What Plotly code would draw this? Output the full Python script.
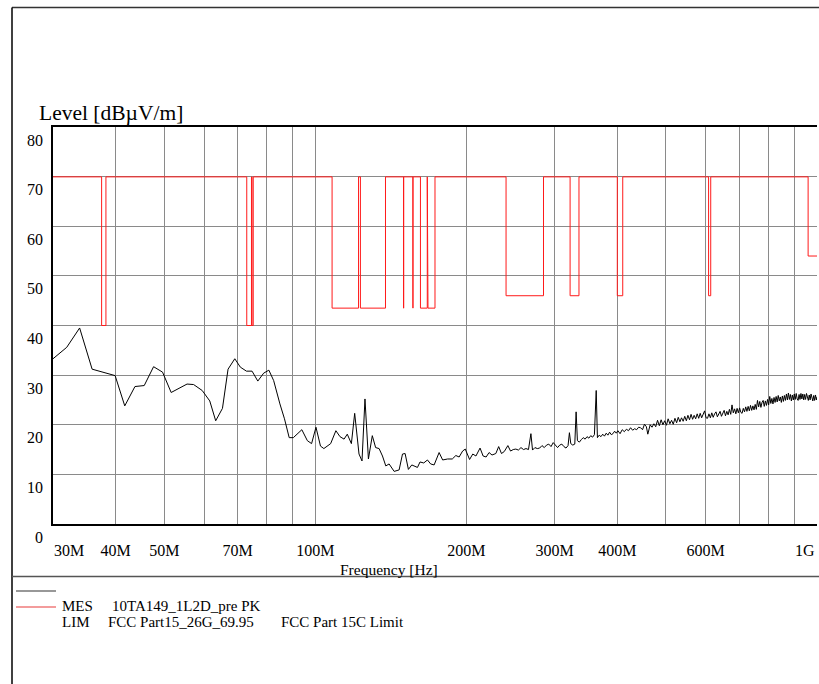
import math
import plotly.graph_objects as go

# ---------------- data ----------------
# measured peak trace (frequency in MHz, level in dBuV/m)
mes_freq_mhz = [
    30.0, 31.95, 33.9, 35.9, 39.9, 41.7, 43.7, 45.6, 47.6, 49.6, 51.6, 55.5, 57.2, 59.5,
    61.6, 63.3, 65.3, 67.0, 69.1, 70.9, 72.9, 74.8, 76.8, 78.9, 80.8, 82.6, 85.0, 86.8,
    88.7, 90.4, 94.0, 96.4, 98.3, 100.3, 102.4, 104.0, 107.3, 109.9, 112.0, 114.1, 115.8,
    118.0, 119.8, 122.2, 123.9, 125.6, 127.6, 129.9, 131.9, 134.0, 136.1, 138.2, 140.3,
    143.6, 146.9, 149.2, 151.0, 153.3, 155.7, 158.0, 159.8, 161.7, 164.5, 167.3, 169.8,
    172.5, 176.5, 179.4, 183.5, 187.5, 190.6, 193.5, 196.6, 199.0,
    203, 206, 209, 213, 216, 219, 222, 225, 229, 232, 235, 238, 242, 245, 248, 251, 254,
    257, 260, 263, 266, 269, 271, 274, 277, 280, 283, 286, 289, 292, 295, 298, 301, 304,
    307, 310, 313, 316, 319, 321, 323, 326, 329, 331, 333, 336, 339, 342, 345, 348, 351,
    354, 357, 360, 363, 365, 368, 371, 374, 377, 380, 383, 386, 389, 392, 395, 398, 401,
    405, 409, 413, 417, 421, 425, 429, 433, 437, 441, 445, 449, 453, 457, 460, 465, 469,
    473, 477, 481, 485, 489, 493, 497, 501, 505, 509, 513, 517, 521, 525, 529, 533, 537,
    541, 545, 549, 553, 557, 561, 565, 569, 573, 577, 581, 585, 589, 593, 597, 601, 605,
    609, 613, 617, 621, 625, 629, 633, 637, 641, 645, 649, 653, 657, 661, 665, 669, 673,
    677, 681, 685, 689, 693, 697, 701, 705, 709, 713, 717, 721, 725, 729, 733, 737, 741,
    745, 749, 753, 757, 761, 765, 769, 773, 777, 781, 785, 789, 793, 797, 801, 805, 809,
    813, 817, 821, 825, 829, 833, 837, 841, 845, 849, 853, 857, 861, 865, 869, 873, 877,
    881, 885, 889, 893, 897, 901, 905, 909, 913, 917, 921, 925, 929, 933, 937, 941, 945,
    949, 953, 957, 961, 965, 969, 973, 977, 981, 985, 989, 993, 997, 1000,
]
mes_level = [
    33.3, 35.6, 39.5, 31.2, 29.9, 23.8, 27.7, 27.9, 31.7, 30.6, 26.5, 28.2, 28.1, 26.9,
    24.8, 20.8, 23.3, 31.2, 33.3, 31.6, 30.8, 30.8, 28.8, 30.4, 31.0, 28.9, 24.2, 21.2,
    17.4, 17.4, 19.0, 16.8, 16.2, 19.5, 15.7, 15.2, 16.2, 18.8, 17.6, 17.1, 18.1,
    16.2, 22.3, 14.1, 12.7, 25.2, 13.1, 17.8, 15.4, 15.2, 13.7, 11.7, 12.1,
    10.6, 10.9, 14.1, 14.2, 11.0, 11.9, 11.7, 11.4, 12.5, 12.3, 12.9, 12.1,
    11.9, 14.4, 12.9, 13.1, 13.1, 13.8, 13.5, 14.7, 15.1,
    13.0, 14.1, 13.7, 15.3, 13.7, 13.5, 14.4, 13.9, 14.2, 15.6, 14.2, 14.6, 15.8, 14.7, 15.0, 15.1, 14.9,
    15.4, 15.0, 15.2, 15.0, 18.2, 14.9, 15.4, 15.2, 15.3, 15.8, 15.4, 15.9, 16.1, 15.6, 16.4, 15.9, 15.4,
    15.9, 16.1, 15.6, 15.3, 15.8, 18.4, 16.2, 15.9, 16.1, 22.6, 16.8, 16.5, 17.0, 17.4, 17.1, 17.6, 17.3,
    17.8, 17.5, 18.0, 26.9, 17.4, 17.9, 17.6, 18.1, 17.7, 18.3, 17.9, 18.5, 18.0, 18.2, 18.7, 18.3, 18.8,
    18.2, 19.0, 18.6, 19.1, 18.8, 19.4, 18.9, 19.2, 19.0, 19.5, 19.4, 19.0, 20.1, 19.6, 18.1, 20.0, 19.5,
    20.2, 19.6, 20.9, 19.8, 21.0, 20.0, 20.8, 19.9, 21.2, 20.2, 20.9, 20.1, 21.3, 20.4, 21.5, 20.6, 21.4,
    20.7, 21.7, 20.8, 21.9, 21.0, 22.1, 21.1, 21.9, 21.2, 22.2, 21.3, 22.3, 21.4, 22.3, 22.8, 21.4, 21.3,
    22.2, 21.4, 22.4, 21.5, 22.2, 22.6, 21.6, 22.3, 22.7, 21.7, 22.5, 22.9, 21.8, 22.7, 22.0, 23.1, 22.1,
    24.0, 22.4, 23.2, 22.2, 23.3, 22.4, 23.4, 22.5, 22.3, 23.3, 22.6, 23.6, 22.7, 23.7, 22.8, 23.9, 22.9,
    23.8, 23.0, 24.1, 23.1, 24.9, 23.6, 24.7, 23.5, 24.5, 24.9, 23.7, 24.8, 23.9, 25.1, 24.0, 25.7, 24.3,
    25.3, 24.2, 25.5, 24.5, 25.7, 24.6, 25.9, 24.8, 25.6, 24.5, 25.8, 24.7, 25.9, 24.9, 26.2, 25.0, 26.4,
    25.1, 26.1, 24.8, 26.0, 25.0, 26.2, 25.1, 26.3, 25.2, 24.9, 26.1, 25.1, 26.3, 25.2, 26.2, 25.0, 26.1,
    25.1, 26.3, 25.3, 24.9, 26.0, 25.0, 26.2, 25.2, 24.8, 25.9, 24.9, 26.0, 25.0, 25.6,
]

# limit line: base level with restricted-band notches (MHz, dBuV/m)
lim_base = 69.95
band_start = [37.5, 73.0, 74.8, 108.0, 123.0, 149.9, 156.52475, 156.7, 162.0125, 167.72,
              240.0, 322.0, 399.9, 608.0, 960.0]
band_end = [38.25, 74.6, 75.2, 121.94, 138.0, 150.05, 156.52525, 156.9, 167.17, 173.2,
            285.0, 335.4, 410.0, 614.0, 1000.0]
band_level = [40.0, 40.0, 40.0, 43.5, 43.5, 43.5, 43.5, 43.5, 43.5, 43.5,
              46.0, 46.0, 46.0, 46.0, 54.0]
f_min, f_max = 30.0, 1000.0

# axes
y_ticks = [0, 10, 20, 30, 40, 50, 60, 70, 80]
x_grid = [30, 40, 50, 60, 70, 80, 90, 100, 200, 300, 400, 500, 600, 700, 800, 900, 1000]
x_labels = ["", "40M", "50M", "", "70M", "", "", "100M", "200M", "300M", "400M", "",
            "600M", "", "", "", ""]
x_edge_labels = ["30M", "1G"]

# ---------------- build limit polyline ----------------
lim_x = [f_min]
lim_y = [lim_base]
for s, e, lv in zip(band_start, band_end, band_level):
    lim_x += [s, s, e]
    lim_y += [lim_base, lv, lv]
    if e < f_max:
        lim_x.append(e)
        lim_y.append(lim_base)
if lim_x[-1] < f_max:
    lim_x.append(f_max)
    lim_y.append(lim_y[-1])

# ---------------- layout helpers (pixel -> paper) ----------------
W, H = 819, 684
PL, PR, PT, PB = 53, 817, 127, 524   # plot area in pixels


def pxx(x):
    return (x - PL) / (PR - PL)


def pxy(y):
    return (PB - y) / (PB - PT)


FONT = "Liberation Serif, Times New Roman, serif"

fig = go.Figure()
fig.add_trace(go.Scatter(x=lim_x, y=lim_y, mode="lines",
                         line=dict(color="#ff1a1a", width=1), showlegend=False,
                         name="LIM"))
fig.add_trace(go.Scatter(x=mes_freq_mhz, y=mes_level, mode="lines",
                         line=dict(color="black", width=1), showlegend=False,
                         name="MES"))

fig.update_layout(
    width=W, height=H,
    margin=dict(l=PL, r=W - PR, t=PT, b=H - PB, pad=0),
    paper_bgcolor="white", plot_bgcolor="white",
    font=dict(family=FONT, color="black", size=16),
    showlegend=False,
)
fig.update_xaxes(
    type="log", range=[math.log10(f_min), math.log10(f_max)],
    tickvals=x_grid, ticktext=x_labels, ticks="",
    showgrid=True, gridcolor="#8a8a8a", gridwidth=1,
    showline=True, linecolor="black", linewidth=1.5, mirror=True,
    zeroline=False, tickfont=dict(family=FONT, size=16, color="black"),
    ticklabelstandoff=11,
)
fig.update_yaxes(
    range=[0, 80], tickvals=y_ticks, ticks="",
    showgrid=True, gridcolor="#8a8a8a", gridwidth=1,
    showline=True, linecolor="black", linewidth=1.5, mirror=False,
    zeroline=False, tickfont=dict(family=FONT, size=16, color="black"),
    ticklabelshift=13, ticklabelstandoff=5,
)

ann = []
ann.append(dict(text="Level [dBµV/m]", x=pxx(37), y=pxy(113), xref="paper", yref="paper",
                xanchor="left", yanchor="middle", showarrow=False,
                font=dict(family=FONT, size=21.5, color="black")))
ann.append(dict(text="Frequency [Hz]", x=pxx(389), y=pxy(569), xref="paper", yref="paper",
                xanchor="center", yanchor="middle", showarrow=False,
                font=dict(family=FONT, size=15.5, color="black")))
ann.append(dict(text=x_edge_labels[0], x=pxx(52), y=pxy(550), xref="paper", yref="paper",
                xanchor="left", yanchor="middle", showarrow=False,
                font=dict(family=FONT, size=16, color="black")))
ann.append(dict(text=x_edge_labels[1], x=pxx(817), y=pxy(550), xref="paper", yref="paper",
                xanchor="right", yanchor="middle", showarrow=False,
                font=dict(family=FONT, size=16, color="black")))
legend_rows = [
    (606, [(60, "MES"), (110, "10TA149_1L2D_pre PK")]),
    (622, [(60, "LIM"), (106, "FCC Part15_26G_69.95"), (279, "FCC Part 15C Limit")]),
]
for yy, items in legend_rows:
    for xx, txt in items:
        ann.append(dict(text=txt, x=pxx(xx), y=pxy(yy), xref="paper", yref="paper",
                        xanchor="left", yanchor="middle", showarrow=False,
                        font=dict(family=FONT, size=15, color="black")))
fig.update_layout(annotations=ann)

shapes = []
# outer frame
shapes.append(dict(type="line", xref="paper", yref="paper", x0=pxx(12), x1=pxx(819),
                   y0=pxy(7.5), y1=pxy(7.5), line=dict(color="#333333", width=1.5)))
shapes.append(dict(type="line", xref="paper", yref="paper", x0=pxx(12), x1=pxx(12),
                   y0=pxy(7.5), y1=pxy(684), line=dict(color="black", width=1.5)))
shapes.append(dict(type="line", xref="paper", yref="paper", x0=pxx(12), x1=pxx(819),
                   y0=pxy(576.5), y1=pxy(576.5), line=dict(color="#555555", width=1.5)))
# legend line samples
shapes.append(dict(type="line", xref="paper", yref="paper", x0=pxx(16), x1=pxx(56),
                   y0=pxy(591), y1=pxy(591), line=dict(color="#333333", width=1.2)))
shapes.append(dict(type="line", xref="paper", yref="paper", x0=pxx(16), x1=pxx(56),
                   y0=pxy(607), y1=pxy(607), line=dict(color="#e83a3a", width=1.2)))
fig.update_layout(shapes=shapes)

# remove the default page margin so the figure fills the 819x684 window exactly
fig.write_html(
    "out.html",
    config={"displayModeBar": False},
    post_script=(
        "document.body.style.margin='0px';"
        "document.body.style.overflow='hidden';"
        "var d=document.getElementById('{plot_id}');"
        "d.style.width='819px';d.style.height='684px';"
    ),
)
